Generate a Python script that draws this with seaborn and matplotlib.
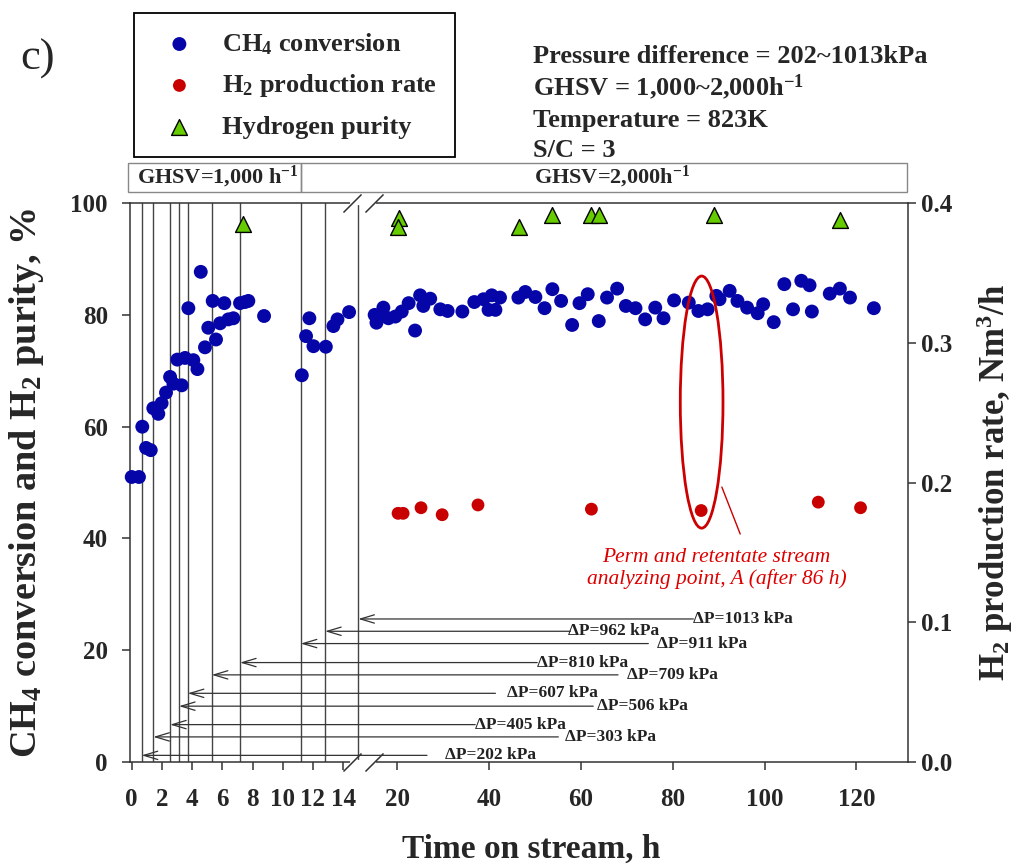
import numpy as np
import matplotlib
matplotlib.use("Agg")
import matplotlib.pyplot as plt
from matplotlib.patches import Ellipse, Rectangle
import seaborn as sns

# CH4 conversion, % (blue)
ch4_time = [0.0, 0.48, 0.70, 0.95, 1.26, 1.43, 1.76, 1.98, 2.27, 2.54, 2.76, 3.02, 3.31, 3.53,
            3.75, 4.08, 4.35, 4.57, 4.85, 5.07, 5.36, 5.58, 5.85, 6.13, 6.40, 6.73, 7.17, 7.50,
            7.72, 8.76, 11.26, 11.54, 11.76, 12.03, 12.85, 13.35, 13.62, 14.39,
            15.1, 15.5, 16.3, 17.0, 18.1, 19.6, 21.0, 22.5, 23.9, 25.0, 25.7, 27.2, 29.4, 31.0,
            34.2, 36.8, 38.8, 39.9, 40.6, 41.4, 42.4, 46.4, 47.9, 50.1, 52.1, 53.8, 55.7, 58.1,
            59.7, 61.5, 63.9, 65.7, 67.9, 69.8, 71.9, 74.0, 76.2, 78.0, 80.3, 83.5, 85.6, 87.6,
            89.5, 90.2, 92.4, 94.1, 96.2, 98.5, 99.7, 102.0, 104.3, 106.2, 108.0, 109.8, 110.3,
            114.2, 116.4, 118.6, 123.8]
ch4_conv = [51.0, 51.0, 60.0, 56.2, 55.8, 63.3, 62.3, 64.2, 66.1, 68.9, 67.7, 72.0, 67.4, 72.3,
            81.2, 71.9, 70.3, 87.7, 74.2, 77.7, 82.5, 75.6, 78.5, 82.1, 79.2, 79.4, 82.1, 82.3,
            82.5, 79.8, 69.2, 76.2, 79.4, 74.4, 74.3, 78.0, 79.2, 80.5,
            80.0, 78.6, 79.7, 81.3, 79.4, 79.7, 80.6, 82.1, 77.2, 83.5, 81.6, 82.9, 81.0, 80.7,
            80.6, 82.3, 82.8, 80.9, 83.5, 80.9, 83.1, 83.1, 84.1, 83.2, 81.2, 84.6, 82.5, 78.2,
            82.1, 83.7, 78.9, 83.1, 84.7, 81.6, 81.2, 79.2, 81.3, 79.4, 82.6, 82.2, 80.7, 81.0,
            83.4, 82.8, 84.3, 82.5, 81.3, 80.3, 81.9, 78.7, 85.5, 81.0, 86.1, 85.3, 80.6,
            83.8, 84.7, 83.1, 81.2]

# H2 production rate, Nm3/h (red)
h2_time = [20.2, 21.3, 25.2, 29.8, 37.6, 62.3, 86.2, 111.7, 120.9]
h2_rate = [0.178, 0.178, 0.182, 0.177, 0.184, 0.181, 0.180, 0.186, 0.182]

# hydrogen purity, % (green)
pur_time = [7.39, 20.4, 20.2, 46.6, 53.7, 62.2, 63.9, 88.9, 116.4]
pur_val = [96.2, 97.3, 95.8, 95.8, 97.8, 97.8, 97.8, 97.8, 97.0]

# pressure difference steps
dp_labels = ['ΔP=202 kPa', 'ΔP=303 kPa', 'ΔP=405 kPa', 'ΔP=506 kPa', 'ΔP=607 kPa',
             'ΔP=709 kPa', 'ΔP=810 kPa', 'ΔP=911 kPa', 'ΔP=962 kPa', 'ΔP=1013 kPa']
dp_time = [0.66, 1.43, 2.54, 3.13, 3.71, 5.30, 7.17, 11.19, 12.80, 15.0]
dp_level = [1.2, 4.5, 6.7, 10.0, 12.3, 15.6, 17.8, 21.2, 23.4, 25.6]
dp_tail = [26.5, 55.1, 37.0, 62.7, 41.4, 68.1, 50.5, 74.7, 57.7, 84.5]
dp_textx = [30.5, 56.6, 37.0, 63.6, 44.0, 70.1, 50.5, 76.6, 57.3, 84.5]

xticks = [0, 2, 4, 6, 8, 10, 12, 14, 20, 40, 60, 80, 100, 120]

conditions = ['Pressure difference = 202~1013kPa', 'GHSV = 1,000~2,000h$^{-1}$',
              'Temperature = 823K', 'S/C = 3']

# broken x axis: 0-15 h stretched, 15-131 h compressed
BRK = 15.0
def fwd(t):
    t = np.asarray(t, dtype=float)
    return np.where(t <= BRK, t, 17.57 + (t - 20.0) * 0.304)

def inv(u):
    u = np.asarray(u, dtype=float)
    right = 20.0 + (u - 17.57) / 0.304
    return np.where(u <= BRK, u, np.maximum(right, BRK))

sns.set_theme(style='ticks')
plt.rcParams['font.family'] = ['Liberation Serif', 'DejaVu Serif']
plt.rcParams['font.weight'] = 'bold'
plt.rcParams['axes.labelweight'] = 'bold'
plt.rcParams['mathtext.fontset'] = 'custom'
plt.rcParams['mathtext.rm'] = 'Liberation Serif:bold'
plt.rcParams['mathtext.it'] = 'Liberation Serif:italic:bold'
plt.rcParams['mathtext.bf'] = 'Liberation Serif:bold'

fig = plt.figure(figsize=(10.16, 8.65), dpi=100)
ax = fig.add_axes([0.128, 0.119, 0.766, 0.6462])
ax2 = ax.twinx()
ax.set_xscale('function', functions=(fwd, inv))

dark = '#333333'
for t in dp_time:
    ax.axvline(t, color='#444444', lw=1.0, zorder=1)

sns.scatterplot(x=ch4_time, y=ch4_conv, ax=ax, color='#0505a8', s=100, edgecolor='none',
                label='CH$_4$ conversion', legend=False, zorder=3, clip_on=False)
sns.scatterplot(x=h2_time, y=h2_rate, ax=ax2, color='#c80000', s=85, edgecolor='none',
                label='H$_2$ production rate', legend=False, zorder=3)
sns.scatterplot(x=pur_time, y=pur_val, ax=ax, color='#66cc00', marker='^', s=130,
                edgecolor='black', linewidth=1.0, label='Hydrogen purity', legend=False, zorder=4)

for lab, t, lvl, tail, tx in zip(dp_labels, dp_time, dp_level, dp_tail, dp_textx):
    ax.annotate('', xy=(t, lvl), xytext=(tail, lvl),
                arrowprops=dict(arrowstyle='->,head_length=1.0,head_width=0.3',
                                mutation_scale=10, color=dark, lw=0.9,
                                shrinkA=0, shrinkB=0))
    ax.text(tx, lvl, lab, fontsize=12.5, ha='left', va='center', color='#222222')

ax.set_xlim(-0.11, 131.3)
ax.set_ylim(0, 100)
ax2.set_ylim(0, 0.4)
ax.set_xticks(xticks)
ax.set_xticklabels([str(v) for v in xticks])
ax.set_yticks([0, 20, 40, 60, 80, 100])
ax2.set_yticks([0.0, 0.1, 0.2, 0.3, 0.4])
ax2.set_yticklabels(['0.0', '0.1', '0.2', '0.3', '0.4'])
ax.tick_params(axis='x', direction='out', length=6, width=1.1, labelsize=18, pad=13, color=dark)
ax.tick_params(axis='y', direction='out', length=6, width=1.1, labelsize=18, pad=10, color=dark)
ax2.tick_params(axis='y', direction='out', length=6, width=1.1, labelsize=18, pad=3, color=dark)
for lab in ax.get_xticklabels() + ax.get_yticklabels() + ax2.get_yticklabels():
    lab.set_fontweight('bold')

for sp in ax.spines.values():
    sp.set_color(dark)
    sp.set_linewidth(1.1)
ax.spines['right'].set_visible(False)
for name in ['top', 'bottom', 'left']:
    ax2.spines[name].set_visible(False)
ax2.spines['right'].set_color(dark)
ax2.spines['right'].set_linewidth(1.1)

ax.set_xlabel('Time on stream, h', fontsize=24, fontweight='bold')
ax.set_ylabel('CH$_4$ conversion and H$_2$ purity, %', fontsize=27.5, fontweight='bold')
ax2.set_ylabel('H$_2$ production rate, Nm$^3$/h', fontsize=25, fontweight='bold')
ax.xaxis.set_label_coords(0.515, -0.128)
ax.yaxis.set_label_coords(-0.108, 0.5)
ax2.yaxis.set_label_coords(1.085, 0.5)

# axis break marks
xt = ax.get_xaxis_transform()
ax.plot([14.6, 15.05], [0, 0], transform=xt, color='white', lw=3, clip_on=False, zorder=5)
ax.plot([14.6, 15.05], [1, 1], transform=xt, color='white', lw=3, clip_on=False, zorder=5)
for bx in [14.6, 15.05]:
    ax.plot([bx, bx], [0, 1], transform=xt, ls='none', marker=[(-1, -1), (1, 1)],
            markersize=13, mew=1.1, color=dark, clip_on=False, zorder=6)

# GHSV boxes above the plot
ax.add_patch(Rectangle((-0.25, 1.0197), dp_time[7] + 0.25, 0.052, transform=xt,
                       fill=False, edgecolor='#888888', lw=1.0, clip_on=False))
ax.add_patch(Rectangle((dp_time[7], 1.0197), 131.1 - dp_time[7], 0.052, transform=xt,
                       fill=False, edgecolor='#888888', lw=1.0, clip_on=False))
ax.text(0.35, 1.046, 'GHSV=1,000 h$^{-1}$', transform=xt, fontsize=16, ha='left', va='center')
ax.text(49.8, 1.046, 'GHSV=2,000h$^{-1}$', transform=xt, fontsize=16, ha='left', va='center')

# analyzing point A
ax.add_patch(Ellipse((86.3, 64.4), width=9.3, height=45.1, fill=False,
                     edgecolor='#cc0000', lw=2.0, zorder=5))
ax.plot([90.7, 94.7], [49.2, 40.8], color='#cc0000', lw=1.0)
ax.text(89.5, 34.7, 'Perm and retentate stream\nanalyzing point, A (after 86 h)',
        color='#dd0000', fontsize=15.5, fontstyle='italic', fontweight='normal',
        ha='center', va='center', linespacing=1.15)

# condition texts
for line, by in zip(conditions, [63, 95, 127, 157]):
    fig.text(533 / 1016, 1 - by / 865, line, fontsize=19, ha='left', va='baseline')
fig.text(20 / 1016, 1 - 70 / 865, 'c)', fontsize=32, fontweight='normal', va='baseline')

h1, l1 = ax.get_legend_handles_labels()
h2, l2 = ax2.get_legend_handles_labels()
hs = [h1[0], h2[0], h1[1]]
ls = [l1[0], l2[0], l1[1]]
leg = fig.legend(hs, ls, loc='upper left', bbox_to_anchor=(134 / 1016, 1 - 13 / 865),
                 borderaxespad=0, frameon=True, fancybox=False, fontsize=19,
                 labelspacing=0.6, handletextpad=0.59, borderpad=0.68, handlelength=2.08)
leg.get_frame().set_edgecolor('black')
leg.get_frame().set_linewidth(1.3)
leg.get_frame().set_alpha(1)

fig.savefig('out.png', dpi=100)
